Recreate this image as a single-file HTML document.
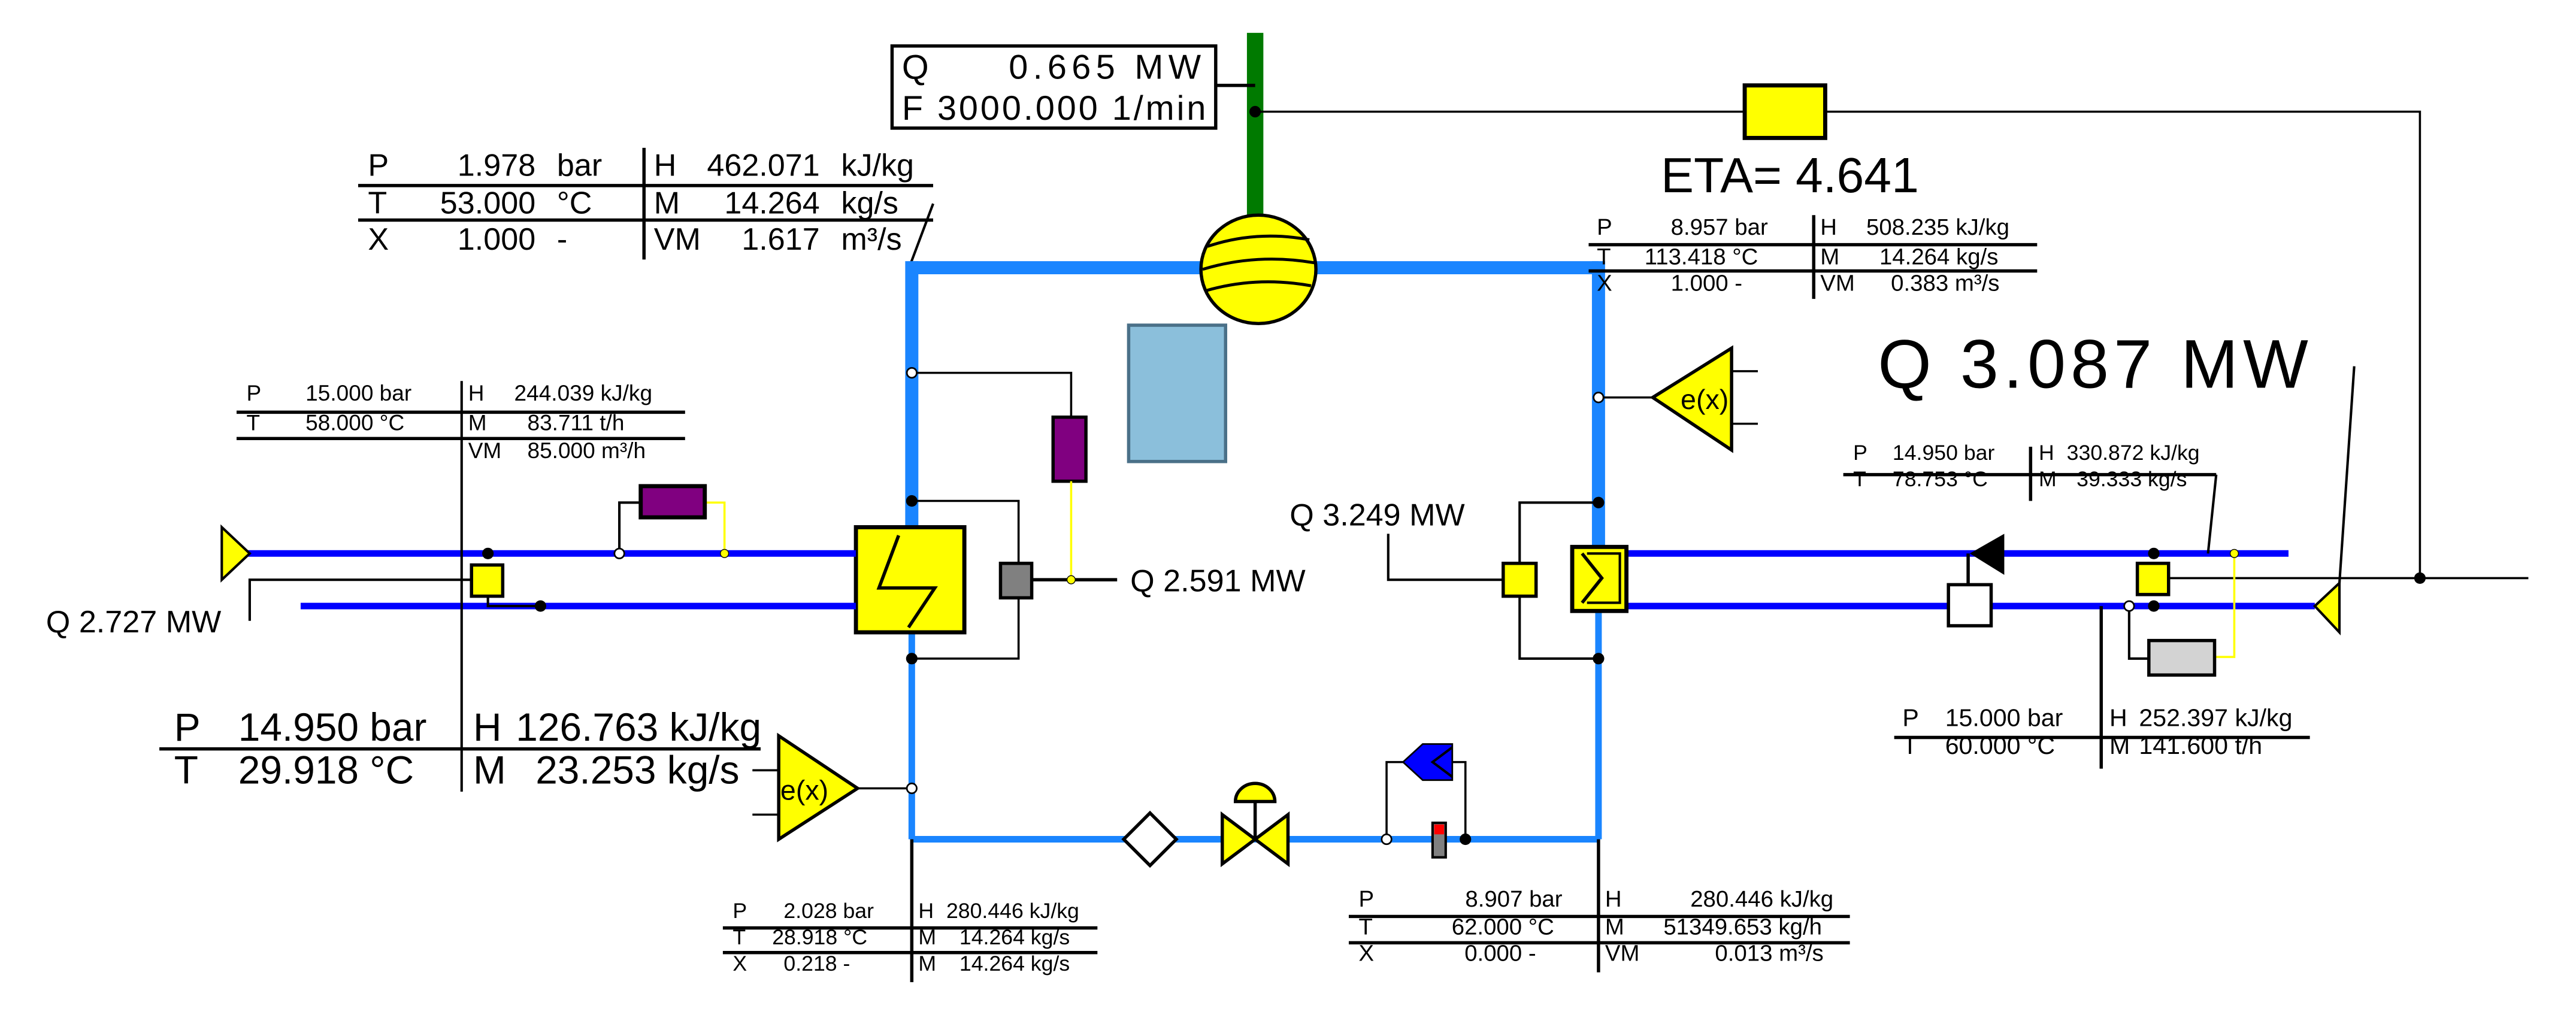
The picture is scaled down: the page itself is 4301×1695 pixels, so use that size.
<!DOCTYPE html>
<html><head><meta charset="utf-8"><style>
html,body{margin:0;padding:0;background:#fff;}
svg{display:block;}
text{font-family:"Liberation Sans",Arial,sans-serif;fill:#000;}
</style></head><body>
<svg width="4301" height="1695" viewBox="0 0 1568 618" preserveAspectRatio="none" xmlns="http://www.w3.org/2000/svg">
<rect width="1568" height="618" fill="#fff"/>
<rect x="759" y="20" width="10" height="115" fill="#007a00"/>
<line x1="740" y1="52" x2="764" y2="52" stroke="#000" stroke-width="2"/>
<circle cx="764" cy="68" r="3.5" fill="#000"/>
<polyline points="764,68 1062,68" fill="none" stroke="#000" stroke-width="1.3"/>
<polyline points="1111,68 1473,68 1473,352" fill="none" stroke="#000" stroke-width="1.3"/>
<line x1="1320" y1="352" x2="1539" y2="352" stroke="#000" stroke-width="1.3"/>
<circle cx="1473" cy="352" r="3.5" fill="#000"/>
<rect x="1062" y="52" width="49" height="32" fill="#ff0" stroke="#000" stroke-width="2.5"/>
<text x="1011" y="117" font-size="30">ETA= 4.641</text>
<rect x="543" y="28" width="197" height="50" fill="#fff" stroke="#000" stroke-width="2"/>
<text x="549" y="48" font-size="21">Q</text><text x="614" y="48" font-size="21" textLength="117">0.665 MW</text>
<text x="549" y="73" font-size="21" textLength="185">F  3000.000 1/min</text>
<g font-size="19">
<text x="224" y="107">P</text><text x="326" y="107" text-anchor="end">1.978</text><text x="339" y="107">bar</text>
<text x="398" y="107">H</text><text x="499" y="107" text-anchor="end">462.071</text><text x="512" y="107">kJ/kg</text>
<text x="224" y="130">T</text><text x="326" y="130" text-anchor="end">53.000</text><text x="339" y="130">°C</text>
<text x="398" y="130">M</text><text x="499" y="130" text-anchor="end">14.264</text><text x="512" y="130">kg/s</text>
<text x="224" y="152">X</text><text x="326" y="152" text-anchor="end">1.000</text><text x="339" y="152">-</text>
<text x="398" y="152">VM</text><text x="499" y="152" text-anchor="end">1.617</text><text x="512" y="152">m³/s</text>
</g>
<g stroke="#000" stroke-width="2" fill="none">
<line x1="218" y1="113" x2="568" y2="113"/><line x1="218" y1="134" x2="568" y2="134"/>
<line x1="392" y1="90" x2="392" y2="158"/>
<line x1="568" y1="124" x2="553" y2="164" stroke-width="1.5"/>
</g>
<g stroke="#1a85ff" fill="none">
<line x1="555" y1="163" x2="973" y2="163" stroke-width="8"/>
<line x1="555" y1="159" x2="555" y2="321" stroke-width="8"/>
<line x1="973" y1="159" x2="973" y2="335" stroke-width="8"/>
<line x1="555" y1="385" x2="555" y2="511" stroke-width="4"/>
<line x1="973" y1="372" x2="973" y2="511" stroke-width="4"/>
<line x1="555" y1="511" x2="973" y2="511" stroke-width="4"/>
</g>
<ellipse cx="766" cy="164" rx="35" ry="33" fill="#ff0" stroke="#000" stroke-width="2"/>
<g stroke="#000" stroke-width="1.8" fill="none"><path d="M735,150 Q765,140 797,146"/><path d="M732,164 Q765,154 800,160"/><path d="M734,177 Q765,168 798,174"/></g>
<rect x="687" y="198" width="59" height="83" fill="#8bbfdb" stroke="#4a7088" stroke-width="2"/>
<rect x="521" y="321" width="66" height="64" fill="#ff0" stroke="#000" stroke-width="2.5"/>
<polyline points="547,326 535,358 569,358 553,382" fill="none" stroke="#000" stroke-width="2"/>
<g stroke="#000" stroke-width="1.3" fill="none">
<polyline points="555,227 652,227 652,254"/>
<polyline points="555,305 620,305 620,343"/>
<polyline points="620,364 620,401 555,401"/>
<line x1="628" y1="353" x2="680" y2="353" stroke-width="2"/>
</g>
<circle cx="555" cy="227" r="3" fill="#fff" stroke="#000"/>
<circle cx="555" cy="305" r="3.5" fill="#000"/><circle cx="555" cy="401" r="3.5" fill="#000"/>
<rect x="641" y="254" width="20" height="39" fill="#800080" stroke="#000" stroke-width="2"/>
<line x1="652" y1="293" x2="652" y2="353" stroke="#ff0" stroke-width="1.3"/>
<circle cx="652" cy="353" r="2.5" fill="#ff0" stroke="#000" stroke-width=".5"/>
<rect x="609" y="343" width="19" height="21" fill="#808080" stroke="#000" stroke-width="2"/>
<text x="688" y="360" font-size="19">Q  2.591  MW</text>
<line x1="150" y1="337" x2="521" y2="337" stroke="#0000ff" stroke-width="4"/>
<line x1="183" y1="369" x2="521" y2="369" stroke="#0000ff" stroke-width="4"/>
<polygon points="135,321 152,337 135,353" fill="#ff0" stroke="#000" stroke-width="1.5"/>
<g stroke="#000" stroke-width="1.5" fill="none">
<line x1="281" y1="232" x2="281" y2="482"/>
<polyline points="287,353 152,353 152,378"/>
<polyline points="297,363 297,369 329,369"/>
<polyline points="377,337 377,306 390,306"/>
</g>
<polyline points="429,306 441,306 441,337" fill="none" stroke="#ff0" stroke-width="1.3"/>
<circle cx="441" cy="337" r="2.5" fill="#ff0" stroke="#000" stroke-width=".5"/>
<circle cx="377" cy="337" r="3" fill="#fff" stroke="#000"/>
<circle cx="297" cy="337" r="3.5" fill="#000"/><circle cx="329" cy="369" r="3.5" fill="#000"/>
<rect x="287" y="344" width="19" height="19" fill="#ff0" stroke="#000" stroke-width="2"/>
<rect x="390" y="296" width="39" height="19" fill="#800080" stroke="#000" stroke-width="2.5"/>
<text x="28" y="385" font-size="19">Q  2.727  MW</text>
<g font-size="13.5">
<text x="150" y="244">P</text><text x="186" y="244">15.000  bar</text><text x="285" y="244">H</text><text x="313" y="244">244.039  kJ/kg</text>
<text x="150" y="262">T</text><text x="186" y="262">58.000  °C</text><text x="285" y="262">M</text><text x="321" y="262">83.711  t/h</text>
<text x="285" y="279">VM</text><text x="321" y="279">85.000  m³/h</text>
</g>
<g stroke="#000" stroke-width="2"><line x1="144" y1="251" x2="417" y2="251"/><line x1="144" y1="267" x2="417" y2="267"/></g>
<g font-size="24">
<text x="106" y="451">P</text><text x="145" y="451">14.950 bar</text><text x="288" y="451">H</text><text x="314" y="451">126.763 kJ/kg</text>
<text x="106" y="477">T</text><text x="145" y="477">29.918 °C</text><text x="288" y="477">M</text><text x="326" y="477">23.253 kg/s</text>
</g>
<line x1="97" y1="456" x2="463" y2="456" stroke="#000" stroke-width="2"/>
<g stroke="#000" stroke-width="1.3"><line x1="458" y1="469" x2="474" y2="469"/><line x1="458" y1="496" x2="474" y2="496"/><line x1="522" y1="480" x2="555" y2="480"/></g>
<polygon points="474,448 522,480 474,511" fill="#ff0" stroke="#000" stroke-width="2"/>
<text x="475" y="487" font-size="17">e(x)</text>
<circle cx="555" cy="480" r="3" fill="#fff" stroke="#000"/>
<polygon points="700,495 716,511 700,527 684,511" fill="#fff" stroke="#000" stroke-width="2"/>
<polygon points="744,496 764,511 744,526" fill="#ff0" stroke="#000" stroke-width="2"/>
<polygon points="784,496 764,511 784,526" fill="#ff0" stroke="#000" stroke-width="2"/>
<line x1="764" y1="511" x2="764" y2="488" stroke="#000" stroke-width="2"/>
<path d="M752,488 A12,11 0 0 1 776,488 Z" fill="#ff0" stroke="#000" stroke-width="2"/>
<line x1="555" y1="511" x2="555" y2="598" stroke="#000" stroke-width="2"/>
<g font-size="13">
<text x="446" y="559">P</text><text x="477" y="559">2.028  bar</text><text x="559" y="559">H</text><text x="576" y="559">280.446  kJ/kg</text>
<text x="446" y="575">T</text><text x="470" y="575">28.918  °C</text><text x="559" y="575">M</text><text x="584" y="575">14.264  kg/s</text>
<text x="446" y="591">X</text><text x="477" y="591">0.218  -</text><text x="559" y="591">M</text><text x="584" y="591">14.264  kg/s</text>
</g>
<g stroke="#000" stroke-width="2"><line x1="440" y1="565" x2="668" y2="565"/><line x1="440" y1="580" x2="668" y2="580"/></g>
<g font-size="14">
<text x="972" y="143">P</text><text x="1017" y="143">8.957  bar</text><text x="1108" y="143">H</text><text x="1136" y="143">508.235  kJ/kg</text>
<text x="972" y="161">T</text><text x="1001" y="161">113.418  °C</text><text x="1108" y="161">M</text><text x="1144" y="161">14.264  kg/s</text>
<text x="972" y="177">X</text><text x="1017" y="177">1.000  -</text><text x="1108" y="177">VM</text><text x="1151" y="177">0.383  m³/s</text>
</g>
<g stroke="#000" stroke-width="2"><line x1="967" y1="149" x2="1240" y2="149"/><line x1="967" y1="165" x2="1240" y2="165"/><line x1="1104" y1="131" x2="1104" y2="182"/></g>
<g stroke="#000" stroke-width="1.3"><line x1="1054" y1="226" x2="1070" y2="226"/><line x1="1054" y1="258" x2="1070" y2="258"/><line x1="973" y1="242" x2="1006" y2="242"/></g>
<polygon points="1054,212 1006,242 1054,274" fill="#ff0" stroke="#000" stroke-width="2"/>
<text x="1023" y="249" font-size="17">e(x)</text>
<circle cx="973" cy="242" r="3" fill="#fff" stroke="#000"/>
<text x="1143" y="236" font-size="42" textLength="262">Q  3.087  MW</text>
<text x="785" y="320" font-size="19">Q  3.249  MW</text>
<g stroke="#000" stroke-width="1.5" fill="none">
<polyline points="845,325 845,353 915,353"/>
<polyline points="973,306 925,306 925,343"/>
<polyline points="925,363 925,401 973,401"/>
</g>
<circle cx="973" cy="306" r="3.5" fill="#000"/><circle cx="973" cy="401" r="3.5" fill="#000"/>
<rect x="915" y="343" width="20" height="20" fill="#ff0" stroke="#000" stroke-width="2"/>
<line x1="990" y1="337" x2="1393" y2="337" stroke="#0000ff" stroke-width="4"/>
<line x1="990" y1="369" x2="1409" y2="369" stroke="#0000ff" stroke-width="4"/>
<rect x="957" y="333" width="33" height="39" fill="#ff0" stroke="#000" stroke-width="2.5"/>
<polyline points="963,337 975,352 963,367" fill="none" stroke="#000" stroke-width="2"/>
<polyline points="966,337 986,337 986,367 966,367" fill="none" stroke="#000" stroke-width="1.5"/>
<polygon points="1199,337 1220,325 1220,350" fill="#000"/>
<line x1="1198" y1="337" x2="1198" y2="356" stroke="#000" stroke-width="2"/>
<rect x="1186" y="356" width="26" height="25" fill="#fff" stroke="#000" stroke-width="2"/>
<polygon points="1409,369 1424,355 1424,385" fill="#ff0" stroke="#000" stroke-width="1.5"/>
<line x1="1433" y1="223" x2="1424" y2="355" stroke="#000" stroke-width="1.5"/>
<line x1="1349" y1="289" x2="1344" y2="337" stroke="#000" stroke-width="1.5"/>
<polyline points="1296,369 1296,401 1308,401" fill="none" stroke="#000" stroke-width="1.5"/>
<polyline points="1348,400 1360,400 1360,337" fill="none" stroke="#ff0" stroke-width="1.3"/>
<circle cx="1360" cy="337" r="2.5" fill="#ff0" stroke="#000" stroke-width=".5"/>
<rect x="1308" y="390" width="40" height="21" fill="#d3d3d3" stroke="#000" stroke-width="2"/>
<circle cx="1311" cy="337" r="3.5" fill="#000"/><circle cx="1311" cy="369" r="3.5" fill="#000"/>
<circle cx="1296" cy="369" r="3" fill="#fff" stroke="#000"/>
<rect x="1301" y="343" width="19" height="19" fill="#ff0" stroke="#000" stroke-width="2"/>
<g font-size="13">
<text x="1128" y="280">P</text><text x="1152" y="280">14.950  bar</text><text x="1241" y="280">H</text><text x="1258" y="280">330.872  kJ/kg</text>
<text x="1128" y="296">T</text><text x="1152" y="296">78.753  °C</text><text x="1241" y="296">M</text><text x="1264" y="296">39.333  kg/s</text>
</g>
<g stroke="#000" stroke-width="2"><line x1="1122" y1="289" x2="1349" y2="289"/><line x1="1236" y1="272" x2="1236" y2="305"/></g>
<g font-size="15">
<text x="1158" y="442">P</text><text x="1184" y="442">15.000  bar</text><text x="1284" y="442">H</text><text x="1302" y="442">252.397  kJ/kg</text>
<text x="1158" y="459">T</text><text x="1184" y="459">60.000  °C</text><text x="1284" y="459">M</text><text x="1302" y="459">141.600  t/h</text>
</g>
<g stroke="#000" stroke-width="2"><line x1="1153" y1="449" x2="1406" y2="449"/><line x1="1279" y1="369" x2="1279" y2="468"/></g>
<g stroke="#000" stroke-width="1.3" fill="none">
<polyline points="844,511 844,464 856,464"/>
<polyline points="884,464 892,464 892,511"/>
</g>
<polygon points="854,464 866,453 884,453 884,475 866,475" fill="#0000ff" stroke="#000" stroke-width="1"/>
<polyline points="884,455 872,464 884,473" fill="none" stroke="#000" stroke-width="1.5"/>
<circle cx="844" cy="511" r="3" fill="#fff" stroke="#000"/><circle cx="892" cy="511" r="3.5" fill="#000"/>
<rect x="872" y="501" width="8" height="21" fill="#808080" stroke="#000" stroke-width="1.5"/>
<rect x="873" y="502" width="6" height="6" fill="#f00"/>
<line x1="973" y1="511" x2="973" y2="592" stroke="#000" stroke-width="2"/>
<g font-size="14">
<text x="827" y="552">P</text><text x="951" y="552" text-anchor="end">8.907  bar</text><text x="977" y="552">H</text><text x="1116" y="552" text-anchor="end">280.446  kJ/kg</text>
<text x="827" y="569">T</text><text x="946" y="569" text-anchor="end">62.000  °C</text><text x="977" y="569">M</text><text x="1109" y="569" text-anchor="end">51349.653  kg/h</text>
<text x="827" y="585">X</text><text x="935" y="585" text-anchor="end">0.000  -</text><text x="977" y="585">VM</text><text x="1110" y="585" text-anchor="end">0.013  m³/s</text>
</g>
<g stroke="#000" stroke-width="2"><line x1="821" y1="558" x2="1126" y2="558"/><line x1="821" y1="574" x2="1126" y2="574"/></g>
</svg>
</body></html>
